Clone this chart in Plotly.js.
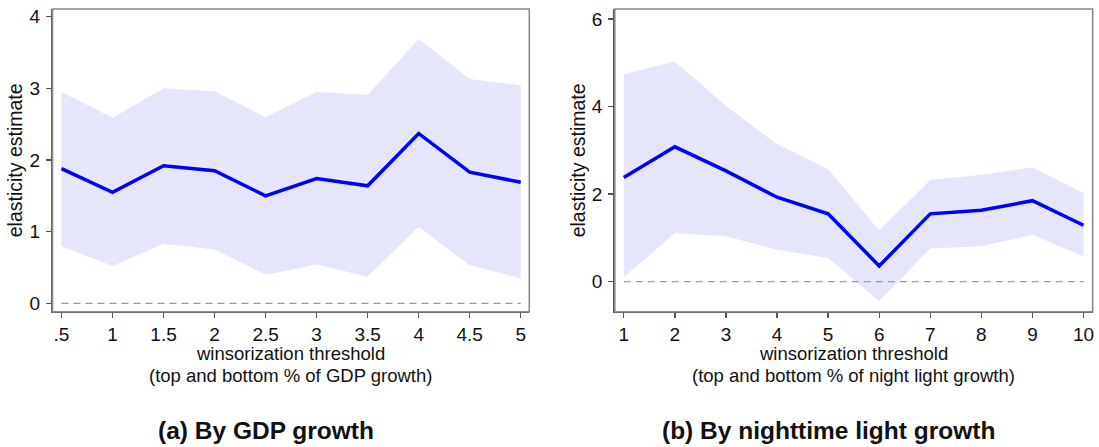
<!DOCTYPE html>
<html>
<head>
<meta charset="utf-8">
<script src="https://cdn.plot.ly/plotly-3.0.1.min.js"></script>
<style>html,body{margin:0;padding:0;background:#fff;}#chart{width:1099px;height:447px;}</style>
</head>
<body>
<div id="chart"></div>
<script>
// Panel (a): winsorization by GDP growth
var gdpThreshold = [0.5, 1, 1.5, 2, 2.5, 3, 3.5, 4, 4.5, 5];
var gdpTickText = [".5", "1", "1.5", "2", "2.5", "3", "3.5", "4", "4.5", "5"];
var gdpEstimate = [1.88, 1.55, 1.92, 1.85, 1.50, 1.74, 1.64, 2.37, 1.83, 1.69];
var gdpUpper    = [2.95, 2.59, 3.00, 2.96, 2.60, 2.95, 2.91, 3.69, 3.13, 3.04];
var gdpLower    = [0.80, 0.52, 0.83, 0.75, 0.40, 0.54, 0.37, 1.07, 0.53, 0.35];

// Panel (b): winsorization by nighttime light growth
var ntlThreshold = [1, 2, 3, 4, 5, 6, 7, 8, 9, 10];
var ntlTickText = ["1", "2", "3", "4", "5", "6", "7", "8", "9", "10"];
var ntlEstimate = [2.38, 3.08, 2.53, 1.93, 1.55, 0.36, 1.55, 1.63, 1.85, 1.29];
var ntlUpper    = [4.74, 5.03, 4.01, 3.14, 2.57, 1.17, 2.32, 2.44, 2.61, 2.02];
var ntlLower    = [0.10, 1.11, 1.04, 0.73, 0.54, -0.44, 0.76, 0.81, 1.07, 0.58];

var leftYTicks = [0, 1, 2, 3, 4];
var rightYTicks = [0, 2, 4, 6];

var titles = ["(a) By GDP growth", "(b) By nighttime light growth"];
var xTitleLine1 = "winsorization threshold";
var xTitleLine2 = ["(top and bottom % of GDP growth)", "(top and bottom % of night light growth)"];
var yTitle = "elasticity estimate";

var bandColor = "rgb(230,230,250)";
var lineColor = "rgb(0,0,255)";
var font = "Liberation Sans, Arial, sans-serif";

function panel(xs, est, up, lo, xa, ya) {
  return [
    {x: xs, y: lo, xaxis: xa, yaxis: ya, type: "scatter", mode: "lines",
     line: {width: 0, color: bandColor}, hoverinfo: "skip", showlegend: false},
    {x: xs, y: up, xaxis: xa, yaxis: ya, type: "scatter", mode: "lines",
     fill: "tonexty", fillcolor: bandColor, line: {width: 0, color: bandColor},
     hoverinfo: "skip", showlegend: false},
    {x: [xs[0], xs[xs.length - 1]], y: [0, 0], xaxis: xa, yaxis: ya, type: "scatter",
     mode: "lines", line: {width: 1.3, color: "#999", dash: "7px,5px"}, showlegend: false},
    {x: xs, y: est, xaxis: xa, yaxis: ya, type: "scatter", mode: "lines",
     line: {width: 3.5, color: lineColor}, showlegend: false}
  ];
}

var data = panel(gdpThreshold, gdpEstimate, gdpUpper, gdpLower, "x", "y")
  .concat(panel(ntlThreshold, ntlEstimate, ntlUpper, ntlLower, "x2", "y2"));

var tickFont = {family: font, size: 19, color: "#111"};
var titleFont = {family: font, size: 19.5, color: "#111"};
var xTitleFont = {family: font, size: 18.5, color: "#111"};

function xaxis(domain, range, vals, text, anchor) {
  return {domain: domain, range: range, anchor: anchor, tickmode: "array",
    tickvals: vals, ticktext: text, ticks: "outside", ticklen: 5, tickwidth: 1.3,
    tickcolor: "#555", showline: true, linecolor: "#555", linewidth: 1.6,
    showgrid: false, zeroline: false, tickfont: tickFont, ticklabelstandoff: 0};
}
function yaxis(domain, range, vals, anchor) {
  return {domain: domain, range: range, anchor: anchor, tickmode: "array",
    tickvals: vals, ticks: "outside", ticklen: 5, tickwidth: 1.3, tickcolor: "#555",
    showline: true, linecolor: "#555", linewidth: 1.6, showgrid: false,
    zeroline: false, tickfont: tickFont, ticklabelstandoff: 2,
    title: {text: yTitle, font: titleFont, standoff: 1}};
}

var xDomA = [52.5 / 1099, 529.3 / 1099];
var xDomB = [614.8 / 1099, 1092.7 / 1099];
var yDom = [1 - 311.7 / 447, 1 - 9 / 447];

function note(text, x, yPix, f) {
  return {text: text, xref: "paper", yref: "paper", x: x, y: 1 - yPix / 447,
    xanchor: "center", yanchor: "middle", showarrow: false, font: f, borderpad: 0};
}
var cA = (xDomA[0] + xDomA[1]) / 2, cB = (xDomB[0] + xDomB[1]) / 2;
var panelFont = {family: font, size: 24.5, color: "#111"};

var layout = {
  width: 1099, height: 447,
  margin: {l: 0, r: 0, t: 0, b: 0},
  paper_bgcolor: "#fff", plot_bgcolor: "#fff",
  showlegend: false,
  xaxis: xaxis(xDomA, [0.412, 5.084], gdpThreshold, gdpTickText, "y"),
  yaxis: yaxis(yDom, [-0.117, 4.107], leftYTicks, "x"),
  xaxis2: xaxis(xDomB, [0.824, 10.18], ntlThreshold, ntlTickText, "y2"),
  yaxis2: yaxis(yDom, [-0.685, 6.228], rightYTicks, "x2"),
  shapes: [
    {type: "rect", xref: "x domain", yref: "y domain", x0: 0, x1: 1, y0: 0, y1: 1,
     line: {color: "#8a8a8a", width: 1.6}, layer: "above"},
    {type: "rect", xref: "x2 domain", yref: "y2 domain", x0: 0, x1: 1, y0: 0, y1: 1,
     line: {color: "#8a8a8a", width: 1.6}, layer: "above"}
  ],
  annotations: [
    note(xTitleLine1, cA, 353, xTitleFont),
    note(xTitleLine2[0], cA, 375, xTitleFont),
    note(xTitleLine1, cB, 353, xTitleFont),
    note(xTitleLine2[1], cB, 375, xTitleFont),
    note("<b>" + titles[0] + "</b>", 266 / 1099, 430, panelFont),
    note("<b>" + titles[1] + "</b>", 828 / 1099, 430, panelFont)
  ]
};

Plotly.newPlot("chart", data, layout, {staticPlot: true, displayModeBar: false});
</script>
</body>
</html>
